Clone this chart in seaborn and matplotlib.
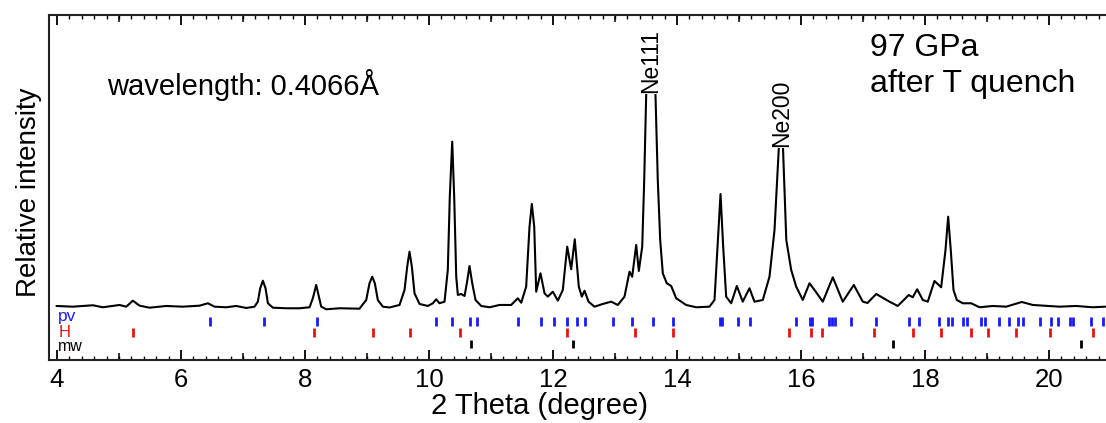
import matplotlib
matplotlib.use("Agg")
import matplotlib.pyplot as plt
from matplotlib.ticker import MultipleLocator, NullLocator
import pandas as pd
import seaborn as sns

# Powder pattern (2-theta in degrees, intensity in arbitrary units)
two_theta = [
    3.99, 4.255, 4.578, 4.739, 5.008, 5.116, 5.223, 5.331, 5.492, 5.761,
    6.029, 6.298, 6.433, 6.540, 6.729, 6.890, 7.052, 7.185, 7.239, 7.277,
    7.320, 7.363, 7.401, 7.481, 7.696, 7.911, 8.073, 8.126, 8.180, 8.223,
    8.261, 8.342, 8.556, 8.879, 8.987, 9.040, 9.084, 9.126, 9.174, 9.255,
    9.363, 9.524, 9.605, 9.648, 9.685, 9.723, 9.766, 9.847, 9.981, 10.062,
    10.116, 10.169, 10.250, 10.303, 10.335, 10.374, 10.406, 10.439, 10.465, 10.519,
    10.573, 10.610, 10.653, 10.697, 10.750, 10.842, 10.976, 11.137, 11.325, 11.432,
    11.487, 11.567, 11.621, 11.658, 11.697, 11.729, 11.798, 11.863, 11.916, 11.997,
    12.078, 12.158, 12.229, 12.293, 12.351, 12.416, 12.465, 12.508, 12.573, 12.669,
    12.803, 12.939, 13.045, 13.153, 13.234, 13.277, 13.342, 13.384, 13.439, 13.471,
    13.503, 13.581, 13.653, 13.690, 13.729, 13.771, 13.835, 13.906, 13.987, 14.148,
    14.310, 14.524, 14.605, 14.653, 14.702, 14.745, 14.793, 14.874, 14.965, 15.061,
    15.169, 15.250, 15.384, 15.492, 15.573, 15.642, 15.685, 15.710, 15.763, 15.842,
    15.923, 16.029, 16.137, 16.218, 16.352, 16.513, 16.674, 16.852, 16.997, 17.073,
    17.213, 17.427, 17.561, 17.739, 17.803, 17.874, 17.965, 18.045, 18.153, 18.261,
    18.331, 18.374, 18.416, 18.460, 18.513, 18.610, 18.745, 18.879, 19.094, 19.310,
    19.561, 19.739, 20.169, 20.439, 20.706, 20.911,
]
intensity = [
    1.0, 0.3, 1.7, -0.3, 2.0, 0.3, 6.3, 1.3, -0.7, 1.0,
    0.3, 1.3, 3.7, 0.3, -0.3, 1.0, -1.0, 0.3, 5.3, 18.7,
    26.3, 18.7, 3.7, -0.7, -1.3, -1.3, -0.3, 8.7, 22.0, 10.3,
    0.3, -2.3, -1.3, -1.7, 7.0, 23.7, 30.3, 23.7, 7.0, 0.3,
    -0.5, 2.0, 17.0, 40.3, 55.3, 40.3, 13.7, 3.0, 1.0, 3.7,
    7.7, 3.7, 5.3, 37.0, 110.3, 165.3, 110.3, 30.3, 12.0, 13.0,
    11.0, 23.7, 41.0, 23.7, 7.0, 1.0, -0.3, 2.0, 2.0, 8.7,
    4.3, 20.3, 80.3, 103.0, 80.3, 15.3, 33.7, 13.7, 10.3, 15.3,
    6.3, 17.0, 60.3, 37.7, 67.7, 20.3, 10.3, 16.3, 5.3, 0.3,
    3.0, 5.3, 2.0, 10.3, 35.3, 30.3, 62.0, 36.0, 60.3, 127.0,
    212.0, 265.0, 212.0, 127.0, 67.0, 33.7, 23.7, 21.0, 8.7, 2.0,
    -0.3, 0.3, 7.0, 60.3, 113.0, 60.3, 10.3, 3.7, 21.0, 5.3,
    18.7, 5.3, 7.0, 30.3, 77.0, 158.7, 205.0, 158.7, 67.0, 37.0,
    20.3, 7.0, 23.7, 17.0, 5.3, 29.7, 5.3, 22.0, 5.3, 4.0,
    13.0, 5.3, 1.0, 12.0, 9.7, 17.7, 7.0, 5.3, 26.0, 19.7,
    57.0, 90.3, 57.0, 17.0, 7.0, 3.7, 3.7, -0.3, 1.0, 0.3,
    5.0, 2.0, 0.3, 1.0, -0.3, 0.3,
]

# Reflection markers for each phase
pv_ticks = [
    6.46, 7.34, 8.20, 10.12, 10.37, 10.66, 10.77, 11.44, 11.81, 12.01,
    12.23, 12.38, 12.52, 12.96, 13.27, 13.62, 13.93, 14.69, 14.73, 14.99,
    15.18, 15.92, 16.14, 16.18, 16.45, 16.50, 16.55, 16.81, 17.21, 17.75,
    17.90, 18.22, 18.37, 18.43, 18.62, 18.68, 18.91, 18.97, 19.19, 19.36,
    19.50, 19.58, 19.86, 20.03, 20.15, 20.34, 20.38, 20.67, 20.87,
]
h_ticks = [
    5.23, 8.14, 9.09, 9.69, 10.50, 12.22, 13.32, 13.93, 15.81, 16.16,
    16.34, 17.18, 17.80, 18.26, 18.74, 19.01, 19.47, 20.02, 20.71,
]
mw_ticks = [10.67, 12.33, 17.48, 20.52]

# Neon peak labels: name, position, where the label sits on the peak
ne_labels = ["Ne111", "Ne200"]
ne_pos = [13.581, 15.685]
ne_cut = [214, 160]

sns.set_theme(style="white")
plt.rcParams["font.family"] = ["Liberation Sans", "DejaVu Sans"]
plt.rcParams["text.color"] = "black"
plt.rcParams["axes.labelcolor"] = "black"
plt.rcParams["xtick.color"] = "black"

fig = plt.figure(figsize=(11.06, 4.23), dpi=100)
ax = fig.add_axes([0.0443, 0.149, 0.9557, 0.8156])

df = pd.DataFrame({"two_theta": two_theta, "intensity": intensity})
sns.lineplot(data=df, x="two_theta", y="intensity", ax=ax, color="black",
             lw=1.5, estimator=None, sort=False, solid_joinstyle="round")

ax.vlines(pv_ticks, -19, -10, color="#1a1aff", lw=2)
ax.vlines(h_ticks, -30.5, -21.5, color="#ee1111", lw=2)
ax.vlines(mw_ticks, -41.5, -33, color="black", lw=2)

ax.text(4.02, -14, "pv", color="#1a1aff", fontsize=12.5, va="baseline")
ax.text(4.03, -30.5, "H", color="#ee1111", fontsize=12, va="baseline")
ax.text(4.02, -44.5, "mw", color="black", fontsize=11.5, va="baseline")

for lab, pos, cut in zip(ne_labels, ne_pos, ne_cut):
    ax.text(pos, cut, lab, rotation=90, ha="center", va="bottom", fontsize=16.5,
            bbox=dict(facecolor="white", edgecolor="none", pad=0.6), zorder=5)

ax.text(0.0549, 0.768, "wavelength: 0.4066Å", transform=ax.transAxes,
        fontsize=21, va="baseline")
ax.text(0.777, 0.882, "97 GPa", transform=ax.transAxes, fontsize=23, va="baseline")
ax.text(0.777, 0.777, "after T quench", transform=ax.transAxes, fontsize=23,
        va="baseline")

ax.set_xlim(3.87, 20.92)
ax.set_ylim(-53, 292)

ax.set_xlabel("2 Theta (degree)", fontsize=21)
ax.set_ylabel("Relative intensity", fontsize=20)
ax.xaxis.set_label_coords(0.4645, -0.093)
ax.yaxis.set_label_coords(-0.007, 0.487)

ax.xaxis.set_major_locator(MultipleLocator(2))
ax.xaxis.set_minor_locator(MultipleLocator(0.2))
ax.yaxis.set_major_locator(NullLocator())
ax.tick_params(axis="x", which="both", direction="in", bottom=True, top=True,
               labelsize=18.5, pad=6, color="black")
ax.tick_params(axis="x", which="major", length=7, width=1.3)
ax.tick_params(axis="x", which="minor", length=3, width=1.0)

# medium ticks on the odd degrees, bottom and top
for side in ["bottom", "top"]:
    sec = ax.secondary_xaxis(side)
    sec.xaxis.set_major_locator(MultipleLocator(2, offset=1))
    sec.xaxis.set_minor_locator(NullLocator())
    sec.tick_params(direction="in", length=5, width=1.1, color="black",
                    labelbottom=False, labeltop=False)
    for sp in sec.spines.values():
        sp.set_visible(False)

for name in ["left", "bottom", "top"]:
    ax.spines[name].set_color("#222222")
    ax.spines[name].set_linewidth(1.5)
ax.spines["right"].set_visible(False)

fig.savefig("out.png", dpi=100)
